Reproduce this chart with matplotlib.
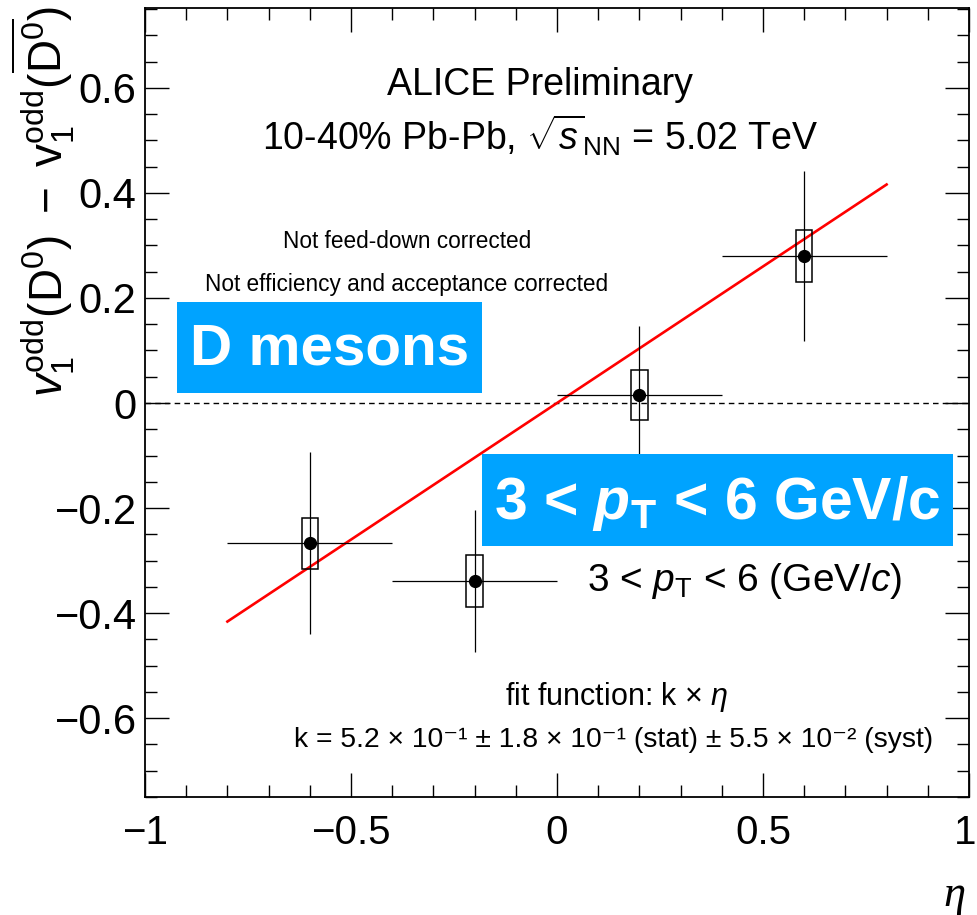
import numpy as np
import matplotlib
matplotlib.use('Agg')
import matplotlib.pyplot as plt
import matplotlib.transforms as mtransforms
from matplotlib import font_manager
from matplotlib.patches import Rectangle

# D0 - D0bar directed flow difference vs eta, 3 < pT < 6 GeV/c
eta = [-0.6, -0.2, 0.2, 0.6]
eta_err = [0.2, 0.2, 0.2, 0.2]
dv1 = [-0.267, -0.339, 0.015, 0.280]
dv1_stat = [0.173, 0.135, 0.132, 0.162]
dv1_syst = [0.049, 0.049, 0.048, 0.049]
syst_halfwidth = 0.02

# linear fit k * eta
k_fit = 0.52
fit_range = [-0.8, 0.8]

blue = '#00a3ff'

plt.rcParams['font.family'] = ['Liberation Sans', 'DejaVu Sans']
plt.rcParams['mathtext.fontset'] = 'custom'
plt.rcParams['mathtext.rm'] = 'Liberation Sans'
plt.rcParams['mathtext.it'] = 'Liberation Sans:italic'
plt.rcParams['mathtext.bf'] = 'Liberation Sans:bold'
plt.rcParams['mathtext.bfit'] = 'Liberation Sans:italic:bold'

try:
    font_manager.findfont('Liberation Sans Narrow', fallback_to_default=False)
    narrow = ['Liberation Sans Narrow', 'DejaVu Sans']
except ValueError:
    narrow = ['Liberation Sans', 'DejaVu Sans']

fig = plt.figure(figsize=(9.77, 9.15), dpi=100)
ax = fig.add_axes([145/977, 1 - 797/915, 824/977, 789/915])

ax.axhline(0, color='black', lw=1, ls=(0, (4, 3)), zorder=1)

fx = np.array(fit_range)
ax.plot(fx, k_fit * fx, color='red', lw=1.9, zorder=2)

ax.errorbar(eta, dv1, xerr=eta_err, yerr=dv1_stat, fmt='o', color='black',
            ms=8.5, elinewidth=0.9, capsize=0, zorder=3)
for x, y, s in zip(eta, dv1, dv1_syst):
    ax.add_patch(Rectangle((x - syst_halfwidth, y - s), 2 * syst_halfwidth, 2 * s,
                           fill=False, edgecolor='black', lw=1.1, zorder=3))

ax.set_xlim(-1, 1)
ax.set_ylim(-0.75, 0.752)
ax.set_xticks([-1, -0.5, 0, 0.5, 1])
ax.set_xticklabels(['\u22121', '\u22120.5', '0', '0.5', '1'], fontfamily=narrow, fontsize=29)
ax.set_xticks(np.arange(-1, 1.01, 0.1), minor=True)
ax.set_yticks([-0.6, -0.4, -0.2, 0, 0.2, 0.4, 0.6])
ax.set_yticklabels(['\u22120.6', '\u22120.4', '\u22120.2', '0', '0.2', '0.4', '0.6'], fontsize=30)
ax.set_yticks(np.arange(-0.75, 0.76, 0.05), minor=True)
ax.tick_params(which='both', direction='in', top=True, right=True, width=1)
ax.tick_params(which='major', length=17)
ax.tick_params(which='minor', length=8.5)
ax.tick_params(axis='y', which='major', pad=6)
ax.tick_params(axis='x', which='major', pad=12)
for sp in ax.spines.values():
    sp.set_linewidth(1.3)

# keep the last x label inside the canvas
last = ax.get_xticklabels()[-1]
last.set_transform(last.get_transform() + mtransforms.ScaledTranslation(-4/100, 0, fig.dpi_scale_trans))

ax.set_ylabel(r'$v_{1}^{\rm odd}(\rm D^{0})\ -\ v_{1}^{\rm odd}(\overline{\rm D^{0}})$',
              fontsize=33)
ax.yaxis.set_label_coords(-0.083, 0.755)
fig.text(966/977, 1 - 875/915, '\u03b7', family='Liberation Serif', style='italic',
         fontsize=32, ha='right', va='top')

ax.text(-0.041, 0.605, 'ALICE Preliminary', fontsize=27, ha='center', va='center')
ax.text(-0.041, 0.51, r'10-40% Pb-Pb, $\sqrt{s}_{\rm NN}$ = 5.02 TeV', fontsize=27,
        ha='center', va='center')
ax.text(-0.364, 0.308, 'Not feed-down corrected', fontsize=16.3, ha='center', va='center')
ax.text(-0.364, 0.226, 'Not efficiency and acceptance corrected', fontsize=16.3,
        ha='center', va='center')

# highlighted labels
ax.add_patch(Rectangle((-0.922, 0.019), 0.740, 0.173, facecolor=blue, edgecolor='none', zorder=5))
ax.text(-0.551, 0.101, 'D mesons', fontsize=42, fontweight='bold', color='white',
        ha='center', va='center', zorder=6)
ax.add_patch(Rectangle((-0.182, -0.273), 1.143, 0.1755, facecolor=blue, edgecolor='none', zorder=5))
ax.text(0.388, -0.191, r'3 < $\mathbfit{p}_{\mathbf{T}}$ < 6 GeV/c', fontsize=42.4,
        fontweight='bold', color='white', ha='center', va='center', zorder=6)

ax.text(0.456, -0.338, r'3 < $p_{\rm T}$ < 6 (GeV/$c$)', fontsize=28, ha='center', va='center')

ax.text(0.146, -0.56, r'fit function: k $\times$ $\eta$', fontfamily=narrow, fontsize=22,
        ha='center', va='center')
ax.text(0.138, -0.642,
        'k = 5.2 \u00d7 10\u207b\u00b9 \u00b1 1.8 \u00d7 10\u207b\u00b9 (stat) \u00b1 '
        '5.5 \u00d7 10\u207b\u00b2 (syst)',
        fontfamily=narrow, fontsize=20.3, ha='center', va='center')

fig.savefig('out.png', dpi=100)
